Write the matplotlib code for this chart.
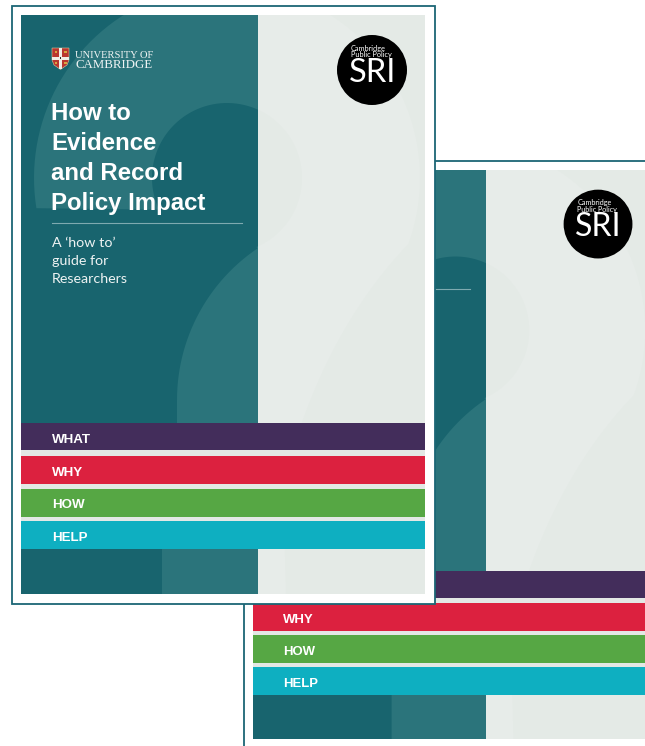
import numpy as np
import matplotlib.pyplot as plt
from matplotlib.patches import Rectangle, Polygon, Circle

# cover content
bar_labels = ['WHAT', 'WHY', 'HOW', 'HELP']
bar_colors = ['#432d5b', '#dc213f', '#56a744', '#0eafc1']
title_lines = ['How to', 'Evidence', 'and Record', 'Policy Impact']
subtitle_lines = ['A \u2018how to\u2019', 'guide for', 'Researchers']
uni_lines = ['UNIVERSITY OF', 'CAMBRIDGE']
logo_lines = ['Cambridge', 'Public Policy']
logo_word = 'SRI'

dark_teal = '#18646e'
light_teal = '#2b747b'
grey_bg = '#e4eae6'
grey_q = '#e7ece9'
gap_col = '#e3e8e5'
frame_col = '#1b6675'


def qmark():
    # big faint question mark behind the cover, cover-relative pixels
    cx, cy, R, r = 206, 163, 193, 75
    a = np.radians(np.linspace(189, -20, 90))
    outer = np.c_[cx + R*np.cos(a), cy - R*np.sin(a)]
    t = np.linspace(0, 1, 30)[:, None]
    p0, p1, p2 = outer[-1], np.array([300, 320]), np.array([262, 470])
    neck_r = (1-t)**2*p0 + 2*(1-t)*t*p1 + t**2*p2
    stem = np.array([[265, 579], [141, 579], [141, 534], [156, 470], [156, 385]])
    b = np.radians(np.linspace(180, 124, 30))
    neck_l = np.c_[339 + 183*np.cos(b), 385 - 183*np.sin(b)]
    c = np.radians(np.linspace(-67, 205, 90))
    inner = np.c_[cx + r*np.cos(c), cy - r*np.sin(c)]
    return np.vstack([outer, neck_r, stem, neck_l, inner])


fig = plt.figure(figsize=(6.45, 7.46), dpi=100)
ax = fig.add_axes([0, 0, 1, 1])
ax.set_xlim(0, 645)
ax.set_ylim(746, 0)
ax.axis('off')


def cover(x0, y0, s, z, front, line_y):
    P = lambda x, y: (x0 + s*x, y0 + s*y)

    def rect(x, y, w, h, **kw):
        rr = Rectangle(P(x, y), w*s, h*s, **kw)
        ax.add_patch(rr)
        return rr

    rect(-9.5, -9, 423.5, 597.5, fc='white', ec=frame_col, lw=1.3, zorder=z)
    dark = rect(0, 0, 237, 579, fc=dark_teal, ec='none', zorder=z+1)
    grey = rect(237, 0, 167, 579, fc=grey_bg, ec='none', zorder=z+1)
    pts = qmark()*s + [x0, y0]
    for clip, col in [(dark, light_teal), (grey, grey_q)]:
        q = Polygon(pts, closed=True, fc=col, ec='none', zorder=z+2)
        ax.add_patch(q)
        q.set_clip_path(clip)

    # section bars
    rect(0, 408, 404, 126, fc=gap_col, ec='none', zorder=z+3)
    tops = [408, 440.5, 473.5, 506]
    hs = [27, 28, 28.5, 28]
    bases = [428, 461, 493.5, 526]
    for lab, col, tp, h, bl in zip(bar_labels, bar_colors, tops, hs, bases):
        rect(0, tp, 404, h, fc=col, ec='none', zorder=z+4)
        ax.text(*P(31, bl), lab, color='white', fontsize=9.6*s, fontweight='bold',
                family='Liberation Sans', va='baseline', ha='left', zorder=z+5)

    # rule under title
    ax.plot([P(31, 0)[0], P(221, 0)[0]], [P(0, line_y)[1]]*2, color='#7eaab0',
            lw=0.8, zorder=z+5)

    # SRI logo
    ax.add_patch(Circle(P(351, 55), 35*s, fc='black', ec='none', zorder=z+5))
    for k, txt in enumerate(logo_lines):
        ax.text(*P(330, 35.5 + 7*k), txt, color='white', fontsize=5.3*s,
                family='Lato', va='baseline', ha='left', zorder=z+6)
        pass
    ax.text(*P(328, 67), logo_word, color='white', fontsize=23.5*s, family='Lato',
            va='baseline', ha='left', zorder=z+6)

    if not front:
        return

    # university crest
    sx = [31, 48, 48, 46, 39.5, 33, 31]
    sy = [33, 33, 45, 50, 54.5, 50, 45]
    ax.add_patch(Polygon([P(a, b) for a, b in zip(sx, sy)], fc='#b9372f',
                         ec='#d9c9a0', lw=0.4, zorder=z+5))
    rect(38, 33, 3, 21, fc='#f2eee6', ec='none', zorder=z+6)
    rect(31, 41.5, 17, 3, fc='#f2eee6', ec='none', zorder=z+6)
    for a, b in [(33.5, 35.5), (43, 35.5), (33.5, 46.5), (43, 46.5)]:
        rect(a, b, 2.5, 2.5, fc='#d8a640', ec='none', zorder=z+6)
    rect(38.8, 41.8, 1.4, 2.4, fc='#2a2a2a', ec='none', zorder=z+7)
    ax.text(*P(54, 43), uni_lines[0], color='#eef3f3', fontsize=7.6,
            family='Liberation Serif', va='baseline', ha='left', zorder=z+6)
    ax.text(*P(54, 53), uni_lines[1], color='#eef3f3', fontsize=9.3,
            family='Liberation Serif', va='baseline', ha='left', zorder=z+6)

    for k, txt in enumerate(title_lines):
        ax.text(*P(30, 105 + 30*k), txt, color='white', fontsize=17.3,
                fontweight='bold', family='Liberation Sans', va='baseline',
                ha='left', zorder=z+6)
    for k, txt in enumerate(subtitle_lines):
        ax.text(*P(31, 232 + 18*k), txt, color='#eef3f3', fontsize=10.3,
                family='Lato', va='baseline', ha='left', zorder=z+6)


cover(253, 170, 0.983, 0, False, 121)
cover(21, 15, 1.0, 20, True, 208)

fig.savefig('out.png', dpi=100, facecolor='white')
